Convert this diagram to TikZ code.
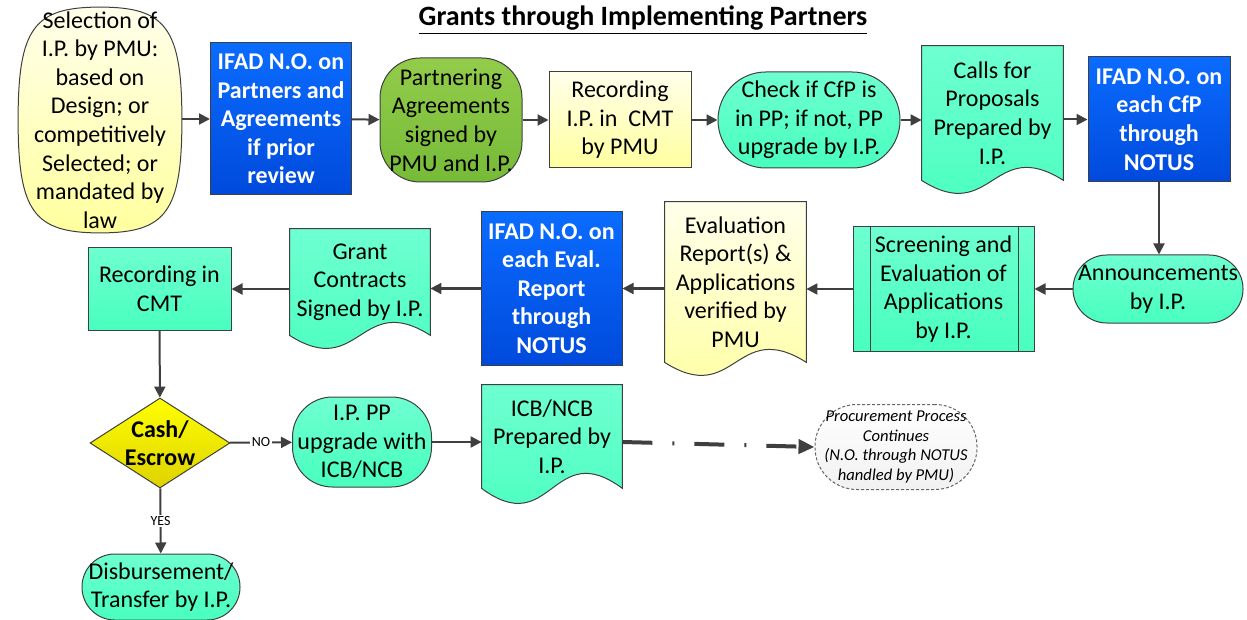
\documentclass[tikz,border=0pt]{standalone}
\usepackage{fontspec}
\setmainfont{Carlito}
\usepackage{xcolor}
\usepackage{tikz}
\usetikzlibrary{positioning, shapes.geometric, arrows.meta, calc, backgrounds}

\definecolor{edgegray}{HTML}{3F3F3F}
\definecolor{foggray}{HTML}{F1F1F1}

\tikzset{
  box/.style={draw=edgegray, line width=0.5pt, align=center, inner sep=0pt, font=\fontsize{12}{14.3}\selectfont},
  docbox/.style={align=center, inner sep=0pt, font=\fontsize{12}{14.3}\selectfont},
  ylwfill/.style={top color=yellow!8, bottom color=yellow!38},
  mintfill/.style={top color={rgb,255:red,110;green,255;blue,208}, bottom color={rgb,255:red,72;green,255;blue,190}},
  greenfill/.style={top color={rgb,255:red,146;green,204;blue,74}, bottom color={rgb,255:red,118;green,187;blue,56}},
  bluefill/.style={top color={rgb,255:red,10;green,108;blue,255}, bottom color={rgb,255:red,0;green,74;blue,220}},
  nobox/.style={box, bluefill, text=white, font=\fontsize{12}{14.3}\selectfont\bfseries},
  decide/.style={diamond, draw=edgegray, line width=0.5pt, inner sep=0pt, minimum width=70pt, minimum height=45pt,
    top color={rgb,255:red,255;green,255;blue,0}, bottom color={rgb,255:red,222;green,210;blue,0}},
  flow/.style={draw=edgegray, line width=1pt, -{Triangle[length=5.5pt,width=5.5pt]}},
  continues/.style={draw=edgegray, line width=2pt, dash pattern=on 15pt off 10pt on 1pt off 10pt, -{Triangle[length=8pt,width=7pt]}},
  tag/.style={fill=white, inner sep=0.8pt, font=\fontsize{7}{8}\selectfont},
}

% document shape with a wavy bottom, drawn behind a text node
\newcommand{\docwave}[3]{%
  \begin{scope}[on background layer]
    \path[draw=edgegray, line width=0.5pt, #2] (#1.north west) -- (#1.north east) -- (#1.south east)
      .. controls ($(#1.south)+(0,-#3)$) and ($(#1.south)+(0,#3)$) .. (#1.south west) -- cycle;
  \end{scope}}

\begin{document}
\begin{tikzpicture}[x=0.5pt, y=-0.5pt]
  \useasboundingbox (0,0) rectangle (1247,620);

  % Title
  \node[font=\fontsize{14}{17}\selectfont\bfseries] (title) at (643,20) {\underline{Grants through Implementing Partners}};

  % Top row
  \node[docbox, minimum width=81.5pt, minimum height=112.5pt] (select) at (100,120)
    {Selection of\\I.P. by PMU:\\based on\\Design; or\\competitively\\Selected; or\\mandated by\\law};
  \begin{scope}[on background layer]
    \path[draw=edgegray, line width=0.5pt, ylwfill] (select.north)
      .. controls +(66,0) and +(0,-92) .. (select.east)
      .. controls +(0,92) and +(66,0) .. (select.south)
      .. controls +(-66,0) and +(0,92) .. (select.west)
      .. controls +(0,-92) and +(-66,0) .. (select.north) -- cycle;
  \end{scope}
  \node[nobox, minimum width=70.5pt, minimum height=76pt] (nopart) at (281,119)
    {IFAD N.O. on\\Partners and\\Agreements\\if prior\\review};
  \node[box, greenfill, rounded corners=20pt, minimum width=71pt, minimum height=62pt] (agree) at (451,120)
    {Partnering\\Agreements\\signed by\\PMU and I.P.};
  \node[box, ylwfill, minimum width=71pt, minimum height=48pt] (record) at (620,120)
    {Recording\\I.P. in~ CMT\\by PMU};
  \node[box, mintfill, rounded corners=23.9pt, minimum width=91pt, minimum height=48pt] (check) at (809,120)
    {Check if CfP is\\in PP; if not, PP\\upgrade by I.P.};
  \node[docbox, minimum width=70.5pt, minimum height=67pt] (calls) at (992.5,113)
    {Calls for\\Proposals\\Prepared by\\I.P.};
  \docwave{calls}{mintfill}{45}
  \node[nobox, minimum width=71pt, minimum height=62.5pt] (nocfp) at (1159,119.5)
    {IFAD N.O. on\\each CfP\\through\\NOTUS};

  % Middle row
  \node[box, mintfill, rounded corners=16.9pt, minimum width=85pt, minimum height=34pt] (announce) at (1158,289)
    {Announcements\\by I.P.};
  \node[box, mintfill, minimum width=90.5pt, minimum height=62pt] (screen) at (943.5,289)
    {Screening and\\Evaluation of\\Applications\\by I.P.};
  \draw[edgegray, line width=0.5pt] ([xshift=9pt]screen.north west) -- ([xshift=9pt]screen.south west)
    ([xshift=-8pt]screen.north east) -- ([xshift=-8pt]screen.south east);
  \node[docbox, minimum width=70.5pt, minimum height=80pt] (evalrep) at (735.5,282)
    {Evaluation\\Report(s) \&\\Applications\\verified by\\PMU};
  \docwave{evalrep}{ylwfill}{45}
  \node[nobox, minimum width=70.5pt, minimum height=76.5pt] (noeval) at (551.5,288.5)
    {IFAD N.O. on\\each Eval.\\Report\\through\\NOTUS};
  \node[docbox, minimum width=70pt, minimum height=53pt] (grant) at (360,282)
    {Grant\\Contracts\\Signed by I.P.};
  \docwave{grant}{mintfill}{45}
  \node[box, mintfill, minimum width=71.5pt, minimum height=41.5pt] (cmt) at (159.5,289)
    {Recording in\\CMT};

  % Bottom row
  \node[decide] (cash) at (160,443) {};
  \node[align=center, font=\fontsize{12}{14.3}\selectfont\bfseries] (cashtext) at (cash) {Cash/\\Escrow};
  \node[box, mintfill, rounded corners=20pt, minimum width=69.5pt, minimum height=45pt] (ipp) at (362,442)
    {I.P. PP\\upgrade with\\ICB/NCB};
  \node[docbox, minimum width=70pt, minimum height=51.5pt] (icb) at (552,436.5)
    {ICB/NCB\\Prepared by\\I.P.};
  \docwave{icb}{mintfill}{52}
  \node[box, draw=edgegray!80, dash pattern=on 1.5pt off 1pt, top color=white, bottom color=foggray,
    rounded corners=21pt, minimum width=81pt, minimum height=42.5pt,
    font=\fontsize{8.3}{9.8}\selectfont\itshape] (procure) at (896,447)
    {Procurement Process\\Continues\\(N.O. through NOTUS\\handled by PMU)};
  \node[box, mintfill, rounded corners=16.4pt, minimum width=79pt, minimum height=33pt] (disburse) at (161,587)
    {Disbursement/\\Transfer by I.P.};

  % Connectors
  \draw[flow] (select.east |- nopart.west) -- (nopart.west);
  \draw[flow] (nopart) -- (agree);
  \draw[flow] (agree) -- (record);
  \draw[flow] (record) -- (check);
  \draw[flow] (check.east) -- (check.east -| calls.west);
  \draw[flow] (calls.east |- nocfp.west) -- (nocfp.west);
  \draw[flow] (nocfp.south) -- (nocfp.south |- announce.north);
  \draw[flow] (announce) -- (screen);
  \draw[flow] (screen.west) -- (screen.west -| evalrep.east);
  \draw[flow] (noeval.east -| evalrep.west) -- (noeval.east);
  \draw[flow] (noeval.west) -- (noeval.west -| grant.east);
  \draw[flow] (grant.west |- cmt.east) -- (cmt.east);
  \draw[flow] (cmt) -- (cash);
  \draw[flow] (cash) -- node[tag] (notag) {NO} (ipp);
  \draw[flow] (cash) -- node[tag] (yestag) {YES} (disburse);
  \draw[flow] (ipp.east) -- (ipp.east -| icb.west);
  \draw[continues] (icb.east |- ipp.east) -- (procure.west);
\end{tikzpicture}
\end{document}
